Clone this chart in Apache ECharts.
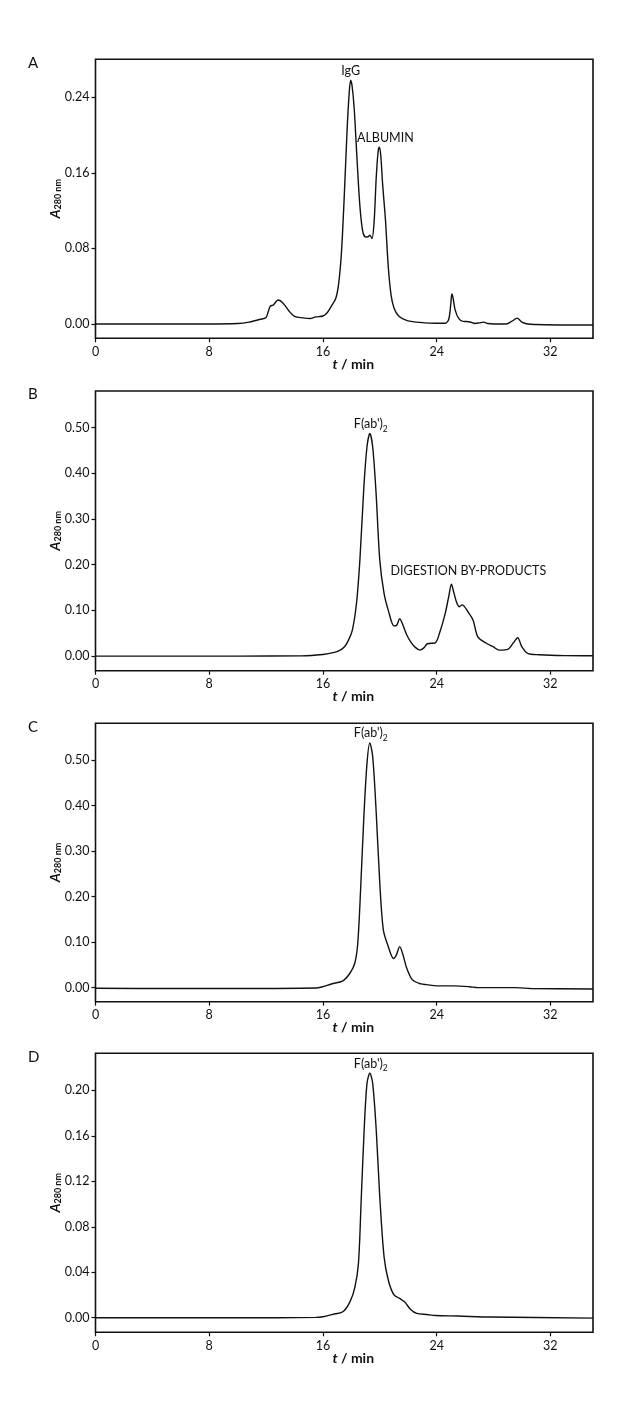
<!DOCTYPE html>
<html>
<head>
<meta charset="utf-8">
<script src="https://cdn.jsdelivr.net/npm/echarts@6/dist/echarts.min.js"></script>
<style>
html,body{margin:0;padding:0;background:#fff;}
#chart{width:640px;height:1403px;}
</style>
</head>
<body>
<div id="chart"></div>
<script>
// ---- Data ----
const timeA = [0, 4, 8, 10, 10.8, 11.6, 12.0, 12.15, 12.3, 12.5, 12.85, 13.2, 13.6, 14.0, 14.6, 15.1, 15.5, 16.0, 16.3, 16.6, 16.9, 17.1, 17.3, 17.5, 17.7, 17.85, 17.95, 18.05, 18.2, 18.4, 18.6, 18.8, 19.0, 19.2, 19.3, 19.45, 19.6, 19.75, 19.88, 19.97, 20.07, 20.2, 20.4, 20.6, 20.8, 21.0, 21.3, 21.7, 22.3, 23.5, 24.6, 24.85, 25.0, 25.07, 25.15, 25.3, 25.55, 25.85, 26.1, 26.35, 26.7, 27.0, 27.3, 27.6, 28.0, 28.9, 29.3, 29.66, 30.0, 30.4, 31, 33, 35];
const absA  = [0, 0, 0, 0.0005, 0.002, 0.005, 0.007, 0.013, 0.019, 0.020, 0.0254, 0.022, 0.014, 0.008, 0.0065, 0.0058, 0.0075, 0.0085, 0.012, 0.019, 0.027, 0.042, 0.075, 0.135, 0.205, 0.245, 0.2576, 0.252, 0.228, 0.174, 0.125, 0.098, 0.092, 0.0925, 0.094, 0.0905, 0.108, 0.155, 0.182, 0.187, 0.178, 0.148, 0.11, 0.06, 0.03, 0.017, 0.009, 0.005, 0.0025, 0.001, 0.0008, 0.005, 0.022, 0.0318, 0.028, 0.015, 0.006, 0.0028, 0.0027, 0.0022, 0.0006, 0.0012, 0.002, 0.0005, 0, 0, 0.003, 0.0062, 0.002, 0, -0.0005, -0.001, -0.001];

const timeB = [0, 5, 10, 14.5, 16.0, 16.8, 17.15, 17.5, 17.8, 18.07, 18.36, 18.6, 18.88, 19.1, 19.3, 19.5, 19.74, 20.0, 20.3, 20.6, 21.0, 21.2, 21.4, 21.6, 21.9, 22.2, 22.5, 22.83, 23.1, 23.35, 23.9, 24.2, 24.6, 24.85, 25.04, 25.2, 25.4, 25.6, 25.8, 26.2, 26.56, 26.9, 27.5, 28.0, 28.4, 29.0, 29.4, 29.7, 30.0, 30.4, 31.2, 33, 35];
const absB  = [0, 0, 0, 0.0005, 0.0036, 0.008, 0.012, 0.02, 0.035, 0.057, 0.115, 0.21, 0.37, 0.458, 0.487, 0.458, 0.356, 0.21, 0.137, 0.10, 0.066, 0.068, 0.082, 0.07, 0.046, 0.03, 0.019, 0.013, 0.018, 0.027, 0.029, 0.05, 0.093, 0.13, 0.157, 0.14, 0.118, 0.108, 0.112, 0.097, 0.079, 0.042, 0.028, 0.02, 0.013, 0.0146, 0.029, 0.040, 0.02, 0.006, 0.003, 0.001, 0.0007];

const timeC = [0, 5, 10, 15.5, 16.0, 16.6, 17.4, 17.9, 18.24, 18.45, 18.65, 18.88, 19.1, 19.3, 19.5, 19.74, 20.0, 20.25, 20.6, 20.97, 21.17, 21.4, 21.6, 21.9, 22.3, 22.9, 23.3, 24.0, 25.2, 26.3, 26.9, 29.5, 29.9, 30.6, 35];
const absC  = [-0.0015, -0.002, -0.002, -0.001, 0.002, 0.008, 0.015, 0.0315, 0.0535, 0.097, 0.215, 0.376, 0.493, 0.538, 0.508, 0.39, 0.23, 0.127, 0.09, 0.064, 0.072, 0.09, 0.0755, 0.0425, 0.017, 0.008, 0.0066, 0.0037, 0.0037, 0.002, 0, 0, -0.0005, -0.002, -0.003];

const timeD = [0, 5, 10, 15.5, 16.0, 16.7, 17.4, 17.9, 18.25, 18.5, 18.7, 18.9, 19.1, 19.3, 19.5, 19.75, 20.0, 20.3, 20.6, 21.0, 21.4, 21.74, 22.17, 22.6, 23.3, 23.9, 25.5, 27.8, 35];
const absD  = [0, 0, 0, 0.0003, 0.0009, 0.003, 0.0053, 0.014, 0.027, 0.048, 0.106, 0.165, 0.206, 0.215, 0.206, 0.165, 0.106, 0.0537, 0.033, 0.020, 0.017, 0.014, 0.0073, 0.0038, 0.0029, 0.002, 0.0015, 0.0006, -0.0003];

const xTicks  = [0, 8, 16, 24, 32];
const yTicksA = [0, 0.08, 0.16, 0.24];
const yTicksB = [0, 0.10, 0.20, 0.30, 0.40, 0.50];
const yTicksC = [0, 0.10, 0.20, 0.30, 0.40, 0.50];
const yTicksD = [0, 0.04, 0.08, 0.12, 0.16, 0.20];
const panelLetters = ['A', 'B', 'C', 'D'];

// ---- Layout ----
const FONT = 'Lato, "Open Sans", sans-serif';
const INK = '#111';
const panels = [
  {t: timeA, a: absA, ticks: yTicksA, min: -0.0151, max: 0.280, top: 59.3, h: 279},
  {t: timeB, a: absB, ticks: yTicksB, min: -0.032, max: 0.580, top: 391, h: 279.7},
  {t: timeC, a: absC, ticks: yTicksC, min: -0.031, max: 0.581, top: 723.3, h: 278.4},
  {t: timeD, a: absD, ticks: yTicksD, min: -0.0128, max: 0.2325, top: 1053.3, h: 279}
];

const zip = (t, a) => t.map((v, i) => [v, a[i]]);

const grids = [], xAxes = [], yAxes = [], series = [], graphics = [];
panels.forEach((p, i) => {
  grids.push({left: 95.5, width: 497.5, top: p.top, height: p.h, show: true,
    borderColor: INK, borderWidth: 1.6, backgroundColor: 'transparent'});
  xAxes.push({type: 'value', gridIndex: i, min: 0, max: 35,
    axisLine: {show: false, onZero: false},
    axisTick: {show: true, inside: false, length: 4, customValues: xTicks, lineStyle: {color: INK, width: 1.2}},
    axisLabel: {show: true, customValues: xTicks, margin: 7, color: INK, fontSize: 12.5, fontFamily: FONT},
    splitLine: {show: false},
    name: '{it|t}{b| / min}', nameLocation: 'middle', nameGap: 19, nameMoveOverlap: false,
    nameTextStyle: {padding: [0, 0, 0, 18],
      rich: {it: {fontStyle: 'italic', fontWeight: 'bold', fontSize: 14, fontFamily: FONT, color: INK},
             b: {fontWeight: 'bold', fontSize: 14, fontFamily: FONT, color: INK}}}
  });
  yAxes.push({type: 'value', gridIndex: i, min: p.min, max: p.max,
    axisLine: {show: false, onZero: false},
    axisTick: {show: true, inside: false, length: 4, customValues: p.ticks, lineStyle: {color: INK, width: 1.2}},
    axisLabel: {show: true, customValues: p.ticks, margin: 6, color: INK, fontSize: 12.5, fontFamily: FONT,
      formatter: v => v.toFixed(2)},
    splitLine: {show: false},
    name: '{a|A}{s|280 nm}', nameLocation: 'middle', nameGap: 33, nameMoveOverlap: false,
    nameTextStyle: {rich: {
      a: {fontStyle: 'italic', fontWeight: 'bold', fontSize: 14, fontFamily: FONT, color: INK, verticalAlign: 'bottom', lineHeight: 17},
      s: {fontWeight: 'bold', fontSize: 9, fontFamily: FONT, color: INK, verticalAlign: 'bottom', lineHeight: 11}
    }}
  });
  graphics.push({type: 'text', left: 28, top: p.top - 4,
    style: {text: panelLetters[i], fontSize: 15, fontFamily: FONT, fill: INK}});
});

const labelRich = {
  n: {fontSize: 12.5, fontFamily: FONT, color: INK},
  sub: {fontSize: 8.5, fontFamily: FONT, color: INK, verticalAlign: 'bottom', lineHeight: 10, padding: [0, 0, -3, 0]}
};
const mp = (coord, text, offset) => ({coord, value: text, symbol: 'circle', symbolSize: 0,
  label: {show: true, position: 'top', distance: 3, offset: offset || [0, 0], formatter: text, rich: labelRich}});

const annotations = [
  [mp([17.95, 0.2576], '{n|IgG}', [0, 0]), mp([19.97, 0.187], '{n|ALBUMIN}', [6, 0])],
  [mp([19.3, 0.487], "{n|F(ab')}{sub|2}", [1, 0]), mp([25.04, 0.157], '{n|DIGESTION BY-PRODUCTS}', [17, -4])],
  [mp([19.3, 0.538], "{n|F(ab')}{sub|2}", [1, 0])],
  [mp([19.3, 0.215], "{n|F(ab')}{sub|2}", [1, 0])]
];

panels.forEach((p, i) => {
  series.push({type: 'line', xAxisIndex: i, yAxisIndex: i, data: zip(p.t, p.a),
    showSymbol: false, smooth: 0.3, lineStyle: {color: INK, width: 1.4}, silent: true,
    markPoint: {silent: true, data: annotations[i]}});
});

const chart = echarts.init(document.getElementById('chart'), null, {renderer: 'canvas'});
chart.setOption({
  animation: false,
  backgroundColor: '#fff',
  grid: grids, xAxis: xAxes, yAxis: yAxes, series: series, graphic: graphics
});
</script>
</body>
</html>
